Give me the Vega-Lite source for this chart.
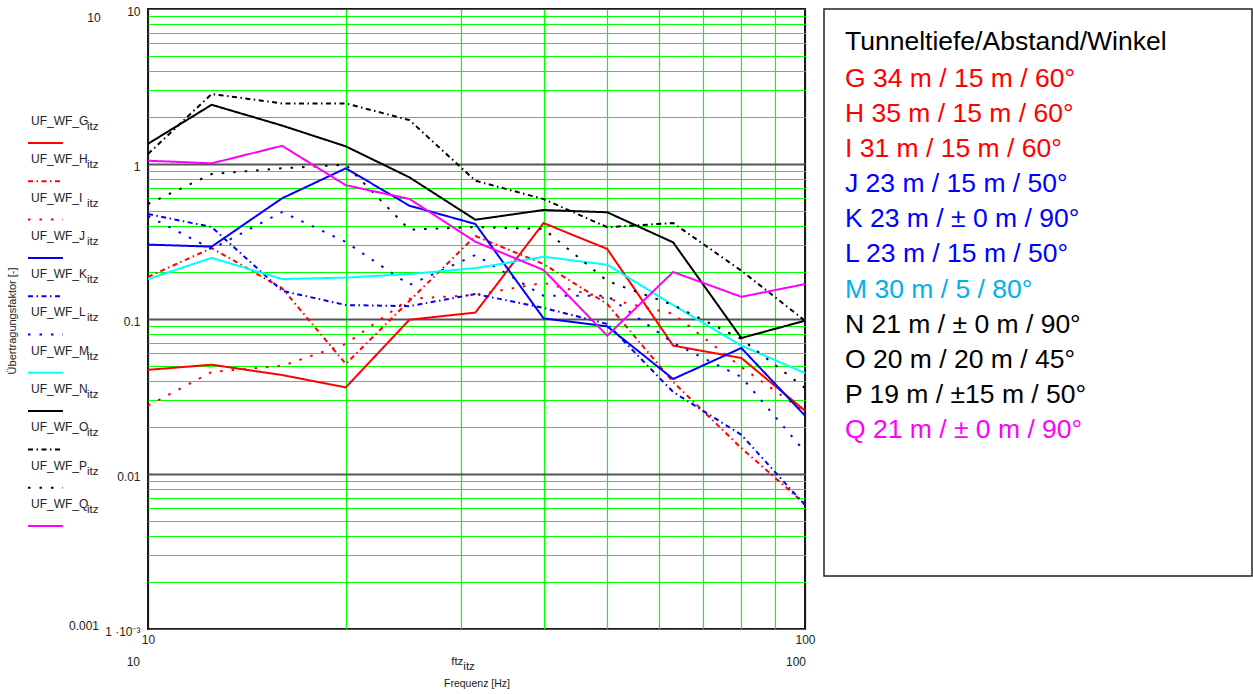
{
  "$schema": "https://vega.github.io/schema/vega-lite/v6.json",
  "background": "white",
  "padding": {"left": 0, "top": 4, "right": 0, "bottom": 0},
  "bounds": "flush",
  "spacing": 19,
  "config": {"font": "Liberation Sans", "view": {"stroke": null}},
  "resolve": {"scale": {"color": "independent", "strokeDash": "independent"}},
  "datasets": {
    "resp": [
      {"f": 10, "G": 0.047, "H": 0.187, "I": 0.0276, "J": 0.302, "K": 0.476, "L": 0.462, "M": 0.181, "N": 1.35, "O": 1.16, "P": 0.552, "Q": 1.05},
      {"f": 12.5, "G": 0.0507, "H": 0.287, "I": 0.0455, "J": 0.293, "K": 0.392, "L": 0.283, "M": 0.248, "N": 2.41, "O": 2.83, "P": 0.862, "Q": 1.01},
      {"f": 16, "G": 0.0435, "H": 0.158, "I": 0.0498, "J": 0.601, "K": 0.152, "L": 0.49, "M": 0.181, "N": 1.77, "O": 2.46, "P": 0.938, "Q": 1.31},
      {"f": 20, "G": 0.0362, "H": 0.0513, "I": 0.069, "J": 0.938, "K": 0.123, "L": 0.314, "M": 0.185, "N": 1.3, "O": 2.46, "P": 0.99, "Q": 0.73},
      {"f": 25, "G": 0.099, "H": 0.131, "I": 0.135, "J": 0.538, "K": 0.121, "L": 0.166, "M": 0.195, "N": 0.82, "O": 1.92, "P": 0.377, "Q": 0.595},
      {"f": 31.5, "G": 0.11, "H": 0.343, "I": 0.143, "J": 0.41, "K": 0.145, "L": 0.259, "M": 0.213, "N": 0.437, "O": 0.78, "P": 0.392, "Q": 0.315},
      {"f": 40, "G": 0.416, "H": 0.226, "I": 0.171, "J": 0.101, "K": 0.118, "L": 0.141, "M": 0.252, "N": 0.505, "O": 0.594, "P": 0.381, "Q": 0.207},
      {"f": 50, "G": 0.283, "H": 0.125, "I": 0.135, "J": 0.0897, "K": 0.0929, "L": 0.141, "M": 0.224, "N": 0.488, "O": 0.391, "P": 0.176, "Q": 0.078},
      {"f": 63, "G": 0.0673, "H": 0.0392, "I": 0.108, "J": 0.041, "K": 0.0338, "L": 0.07, "M": 0.123, "N": 0.312, "O": 0.416, "P": 0.123, "Q": 0.201},
      {"f": 80, "G": 0.056, "H": 0.0147, "I": 0.049, "J": 0.065, "K": 0.0179, "L": 0.0423, "M": 0.0673, "N": 0.0754, "O": 0.205, "P": 0.0743, "Q": 0.139},
      {"f": 100, "G": 0.0256, "H": 0.0064, "I": 0.0251, "J": 0.0238, "K": 0.0063, "L": 0.0139, "M": 0.0448, "N": 0.0975, "O": 0.0975, "P": 0.0359, "Q": 0.168}
    ],
    "leg": [
      {"s": "G", "i": 0, "lab": "UF_WF_G"},
      {"s": "H", "i": 1, "lab": "UF_WF_H"},
      {"s": "I", "i": 2, "lab": "UF_WF_I"},
      {"s": "J", "i": 3, "lab": "UF_WF_J"},
      {"s": "K", "i": 4, "lab": "UF_WF_K"},
      {"s": "L", "i": 5, "lab": "UF_WF_L"},
      {"s": "M", "i": 6, "lab": "UF_WF_M"},
      {"s": "N", "i": 7, "lab": "UF_WF_N"},
      {"s": "O", "i": 8, "lab": "UF_WF_O"},
      {"s": "P", "i": 9, "lab": "UF_WF_P"},
      {"s": "Q", "i": 10, "lab": "UF_WF_Q"}
    ],
    "box": [
      {"s": "T", "i": -0.054, "t": "Tunneltiefe/Abstand/Winkel"},
      {"s": "G", "i": 1, "t": "G 34 m / 15 m / 60°"},
      {"s": "H", "i": 2, "t": "H 35 m / 15 m / 60°"},
      {"s": "I", "i": 3, "t": "I 31 m / 15 m / 60°"},
      {"s": "J", "i": 4, "t": "J 23 m / 15 m / 50°"},
      {"s": "K", "i": 5, "t": "K 23 m / ± 0 m / 90°"},
      {"s": "L", "i": 6, "t": "L 23 m / 15 m / 50°"},
      {"s": "M", "i": 7, "t": "M 30 m / 5 / 80°"},
      {"s": "N", "i": 8, "t": "N 21 m / ± 0 m / 90°"},
      {"s": "O", "i": 9, "t": "O 20 m / 20 m / 45°"},
      {"s": "P", "i": 10, "t": "P 19 m / ±15 m / 50°"},
      {"s": "Q", "i": 11, "t": "Q 21 m / ± 0 m / 90°"}
    ]
  },
  "hconcat": [
    {
      "width": 129,
      "height": 620,
      "view": {"stroke": null},
      "layer": [
        {
          "data": {"name": "leg"},
          "mark": {"type": "rule", "strokeWidth": 2, "yOffset": 22},
          "encoding": {
            "x": {"datum": 0.217, "type": "quantitative", "scale": {"domain": [0, 1], "nice": false, "zero": false}, "axis": null},
            "x2": {"datum": 0.488},
            "y": {"field": "i", "type": "quantitative", "scale": {"domain": [-2.924, 13.264], "nice": false, "zero": false, "reverse": true}, "axis": null},
            "color": {"field": "s", "type": "nominal", "legend": null,
              "scale": {"domain": ["G","H","I","J","K","L","M","N","O","P","Q"], "range": ["#ff0000","#ff0000","#ff0000","#0000ff","#0000ff","#0000ff","#00ffff","#000000","#000000","#000000","#ff00ff"]}},
            "strokeDash": {"field": "s", "type": "nominal", "legend": null,
              "scale": {"domain": ["G","H","I","J","K","L","M","N","O","P","Q"], "range": [[1,0],[5,3.5,1.5,3.5],[2.5,9],[1,0],[5,3.5,1.5,3.5],[2.5,9],[1,0],[1,0],[5,3.5,1.5,3.5],[2.5,9],[1,0]]}}
          }
        },
        {
          "data": {"name": "leg"},
          "mark": {"type": "text", "align": "left", "baseline": "middle", "fontSize": 12, "color": "#222"},
          "encoding": {
            "x": {"datum": 0.24, "type": "quantitative"},
            "y": {"field": "i", "type": "quantitative"},
            "text": {"field": "lab"}
          }
        },
        {
          "data": {"name": "leg"},
          "mark": {"type": "text", "align": "left", "baseline": "middle", "fontSize": 11.5, "color": "#222", "dy": 6},
          "encoding": {
            "x": {"datum": 0.674, "type": "quantitative"},
            "y": {"field": "i", "type": "quantitative"},
            "text": {"value": "itz"}
          }
        },
        {
          "data": {"values": [{"t": "Übertragungsfaktor [-]"}]},
          "mark": {"type": "text", "align": "center", "baseline": "middle", "fontSize": 11, "angle": 270, "color": "#222"},
          "encoding": {
            "x": {"datum": 0.1, "type": "quantitative"},
            "y": {"datum": 5.22, "type": "quantitative"},
            "text": {"field": "t"}
          }
        },
        {
          "data": {"values": [{"t": "10"}]},
          "mark": {"type": "text", "align": "center", "baseline": "middle", "fontSize": 12, "color": "#222"},
          "encoding": {
            "x": {"datum": 0.729, "type": "quantitative"},
            "y": {"datum": -2.69, "type": "quantitative"},
            "text": {"field": "t"}
          }
        },
        {
          "data": {"values": [{"t": "0.001"}]},
          "mark": {"type": "text", "align": "center", "baseline": "middle", "fontSize": 12, "color": "#222"},
          "encoding": {
            "x": {"datum": 0.651, "type": "quantitative"},
            "y": {"datum": 13.19, "type": "quantitative"},
            "text": {"field": "t"}
          }
        }
      ]
    },
    {
      "width": 657,
      "height": 620,
      "view": {"stroke": "#1a1a1a", "strokeWidth": 2},
      "layer": [
        {
          "data": {"name": "resp"},
          "transform": [{"fold": ["G","H","I","J","K","L","M","N","O","P","Q"], "as": ["s", "v"]}],
          "mark": {"type": "line", "strokeWidth": 2, "clip": true},
          "encoding": {
            "x": {"field": "f", "type": "quantitative",
              "scale": {"type": "log", "domain": [10, 100], "nice": false},
              "axis": {
                "values": [10, 20, 30, 40, 50, 60, 70, 80, 90, 100],
                "labelExpr": "datum.value == 10 ? '10' : datum.value == 100 ? '100' : ''",
                "labelFontSize": 12, "labelColor": "#222", "labelFlush": false, "labelOverlap": false, "labelPadding": 5,
                "ticks": false, "domain": false,
                "grid": true, "gridWidth": 1.2, "gridOpacity": 1,
                "gridColor": {"condition": {"test": "datum.value == 10 || datum.value == 100", "value": "#1a1a1a"}, "value": "#00ff00"},
                "title": "Frequenz [Hz]", "titleFontSize": 10.5, "titleFontWeight": "normal", "titleColor": "#222", "titlePadding": 33
              }},
            "y": {"field": "v", "type": "quantitative",
              "scale": {"type": "log", "domain": [0.001, 10], "nice": false},
              "axis": {
                "values": [0.001,0.002,0.003,0.004,0.005,0.006,0.007,0.008,0.009,0.01,0.02,0.03,0.04,0.05,0.06,0.07,0.08,0.09,0.1,0.2,0.3,0.4,0.5,0.6,0.7,0.8,0.9,1,2,3,4,5,6,7,8,9,10],
                "labelExpr": "datum.value == 10 ? '10' : datum.value == 1 ? '1' : datum.value == 0.1 ? '0.1' : datum.value == 0.01 ? '0.01' : datum.value == 0.001 ? '1 ·10⁻³' : ''",
                "labelFontSize": 12, "labelColor": "#222", "labelFlush": false, "labelOverlap": false, "labelPadding": 8, "labelOffset": 2,
                "ticks": false, "domain": false,
                "grid": true, "gridOpacity": 1,
                "gridColor": {"condition": {"test": "datum.value == 0.001 || datum.value == 0.01 || datum.value == 0.1 || datum.value == 1 || datum.value == 10", "value": "#555555"}, "value": "#00ff00"},
                "gridWidth": {"condition": {"test": "datum.value == 0.01 || datum.value == 0.1 || datum.value == 1", "value": 1.8}, "value": 1.2},
                "title": null
              }},
            "color": {"field": "s", "type": "nominal", "legend": null,
              "scale": {"domain": ["G","H","I","J","K","L","M","N","O","P","Q"], "range": ["#ff0000","#ff0000","#ff0000","#0000ff","#0000ff","#0000ff","#00ffff","#000000","#000000","#000000","#ff00ff"]}},
            "strokeDash": {"field": "s", "type": "nominal", "legend": null,
              "scale": {"domain": ["G","H","I","J","K","L","M","N","O","P","Q"], "range": [[1,0],[5,3.5,1.5,3.5],[2.5,9],[1,0],[5,3.5,1.5,3.5],[2.5,9],[1,0],[1,0],[5,3.5,1.5,3.5],[2.5,9],[1,0]]}}
          }
        },
        {
          "data": {"values": [{"t": "ftz"}]},
          "mark": {"type": "text", "align": "right", "baseline": "middle", "fontSize": 11.5, "color": "#222"},
          "encoding": {
            "x": {"datum": 30.2, "type": "quantitative"},
            "y": {"datum": 0.000613, "type": "quantitative"},
            "text": {"field": "t"}
          }
        },
        {
          "data": {"values": [{"t": "itz"}]},
          "mark": {"type": "text", "align": "left", "baseline": "middle", "fontSize": 11.5, "color": "#222", "dx": 0, "dy": 5},
          "encoding": {
            "x": {"datum": 30.2, "type": "quantitative"},
            "y": {"datum": 0.000613, "type": "quantitative"},
            "text": {"field": "t"}
          }
        },
        {
          "data": {"values": [{"t": "10"}]},
          "mark": {"type": "text", "align": "right", "baseline": "middle", "fontSize": 12, "color": "#222", "dx": -8},
          "encoding": {
            "x": {"datum": 10, "type": "quantitative"},
            "y": {"datum": 0.000613, "type": "quantitative"},
            "text": {"field": "t"}
          }
        },
        {
          "data": {"values": [{"t": "100"}]},
          "mark": {"type": "text", "align": "right", "baseline": "middle", "fontSize": 12, "color": "#222", "dx": 1},
          "encoding": {
            "x": {"datum": 100, "type": "quantitative"},
            "y": {"datum": 0.000613, "type": "quantitative"},
            "text": {"field": "t"}
          }
        }
      ]
    },
    {
      "width": 428,
      "height": 567,
      "view": {"stroke": "#222222", "strokeWidth": 1.5},
      "data": {"name": "box"},
      "mark": {"type": "text", "align": "left", "baseline": "middle", "fontSize": 26.5},
      "encoding": {
        "x": {"datum": 0.049, "type": "quantitative", "scale": {"domain": [0, 1], "nice": false, "zero": false}, "axis": null},
        "y": {"field": "i", "type": "quantitative", "scale": {"domain": [-0.994, 15.16], "nice": false, "zero": false, "reverse": true}, "axis": null},
        "text": {"field": "t"},
        "color": {"field": "s", "type": "nominal", "legend": null,
          "scale": {"domain": ["T","G","H","I","J","K","L","M","N","O","P","Q"], "range": ["#000000","#ff0000","#ff0000","#ff0000","#0000ff","#0000ff","#0000ff","#00b0f0","#000000","#000000","#000000","#ff00ff"]}}
      }
    }
  ]
}
